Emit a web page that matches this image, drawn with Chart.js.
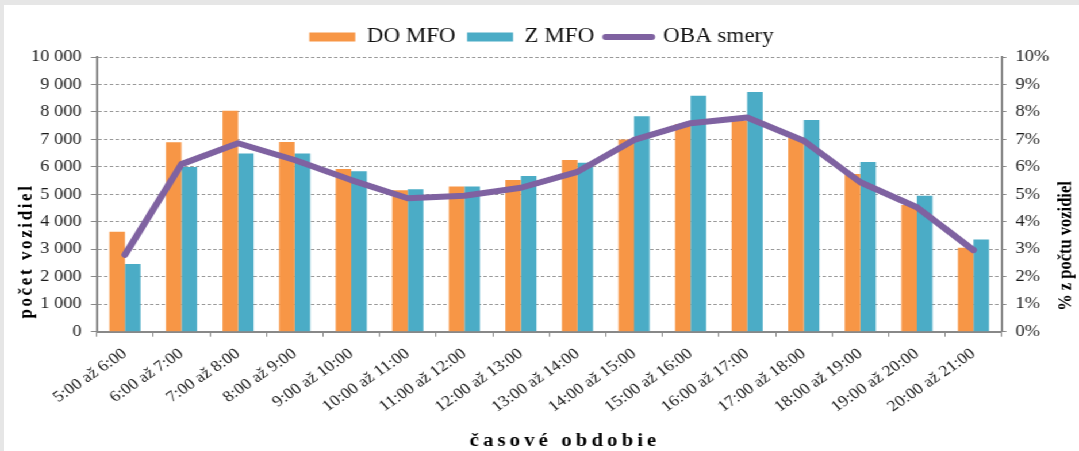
<!DOCTYPE html>
<html>
<head>
<meta charset="utf-8">
<script src="https://cdn.jsdelivr.net/npm/chart.js@4.4.1/dist/chart.umd.min.js"></script>
<style>
  html, body { margin: 0; padding: 0; background: #e6e6e6; width: 1079px; height: 451px; overflow: hidden; }
  #wrap { position: absolute; left: 4px; top: 5px; width: 935px; height: 446px; background: #fff;
          transform: scaleX(1.14973); transform-origin: 0 0; }
  #c { display: block; }
</style>
</head>
<body>
<div id="wrap"><canvas id="c" width="935" height="446"></canvas></div>
<script>
const categories = ['5:00 až 6:00', '6:00 až 7:00', '7:00 až 8:00', '8:00 až 9:00', '9:00 až 10:00',
  '10:00 až 11:00', '11:00 až 12:00', '12:00 až 13:00', '13:00 až 14:00', '14:00 až 15:00',
  '15:00 až 16:00', '16:00 až 17:00', '17:00 až 18:00', '18:00 až 19:00', '19:00 až 20:00', '20:00 až 21:00'];
const doMfo = [3640, 6900, 8040, 6910, 5920, 5150, 5290, 5520, 6250, 7000, 7560, 7680, 7080, 5740, 4610, 3060];
const zMfo = [2460, 6000, 6490, 6490, 5840, 5190, 5290, 5670, 6150, 7840, 8590, 8730, 7710, 6180, 4950, 3360];
const obaSmery = [2.8, 6.1, 6.86, 6.25, 5.52, 4.86, 4.95, 5.24, 5.82, 6.98, 7.59, 7.8, 6.95, 5.44, 4.53, 2.97];
const yTickLabels = ['0', '1 000', '2 000', '3 000', '4 000', '5 000', '6 000', '7 000', '8 000', '9 000', '10 000'];
const y1TickLabels = ['0%', '1%', '2%', '3%', '4%', '5%', '6%', '7%', '8%', '9%', '10%'];
const seriesNames = ['DO MFO', 'Z MFO', 'OBA smery'];
const xTitle = 'časové obdobie';
const yTitle = 'počet vozidiel';
const y1Title = '% z počtu vozidiel';

Chart.defaults.font.family = "'Liberation Serif', 'Times New Roman', serif";
Chart.defaults.color = '#1a1a1a';

const titlePlugin = {
  id: 'axisTitles',
  afterDraw(chart) {
    const ctx = chart.ctx;
    const ff = "'Liberation Serif', serif";
    ctx.save();
    ctx.fillStyle = '#000';
    ctx.textAlign = 'center';
    ctx.textBaseline = 'middle';
    // x title
    ctx.font = 'bold 18px ' + ff;
    try { ctx.letterSpacing = '3.6px'; } catch (e) {}
    ctx.fillText(xTitle, 488, 436);
    // left title
    ctx.save();
    ctx.font = 'bold 17px ' + ff;
    try { ctx.letterSpacing = '2.6px'; } catch (e) {}
    ctx.translate(20, 246);
    ctx.rotate(-Math.PI / 2);
    ctx.fillText(yTitle, 0, 0);
    ctx.restore();
    // right title
    ctx.save();
    ctx.font = 'bold 16.5px ' + ff;
    try { ctx.letterSpacing = '0px'; } catch (e) {}
    ctx.translate(924, 241);
    ctx.rotate(-Math.PI / 2);
    ctx.fillText(y1Title, 0, 0);
    ctx.restore();
    ctx.restore();
  }
};

new Chart(document.getElementById('c'), {
  data: {
    labels: categories,
    datasets: [
      { type: 'bar', label: seriesNames[0], data: doMfo, backgroundColor: '#F79646', yAxisID: 'y', order: 1,
        barPercentage: 1, categoryPercentage: 0.55 },
      { type: 'bar', label: seriesNames[1], data: zMfo, backgroundColor: '#4BACC6', yAxisID: 'y', order: 1,
        barPercentage: 1, categoryPercentage: 0.55 },
      { type: 'line', label: seriesNames[2], data: obaSmery, borderColor: '#7F62A1', backgroundColor: '#7F62A1',
        borderWidth: 6, pointRadius: 0, tension: 0, yAxisID: 'y1', order: 0,
        borderJoinStyle: 'round', borderCapStyle: 'round' }
    ]
  },
  options: {
    responsive: false,
    animation: false,
    devicePixelRatio: 1,
    layout: { padding: { top: 12, left: 0, right: 0, bottom: 0 } },
    plugins: {
      tooltip: { enabled: false },
      legend: {
        position: 'top',
        labels: {
          font: { size: 20 },
          color: '#111',
          usePointStyle: true,
          pointStyleWidth: 40,
          boxHeight: 9,
          padding: 10,
          generateLabels(chart) {
            const items = Chart.defaults.plugins.legend.labels.generateLabels(chart);
            items.sort((a, b) => a.datasetIndex - b.datasetIndex);
            items.forEach(it => {
              const ds = chart.data.datasets[it.datasetIndex];
              if (ds.type === 'line') {
                it.pointStyle = 'line'; it.lineWidth = 6; it.strokeStyle = ds.borderColor; it.lineCap = 'round';
              } else {
                it.pointStyle = 'rect'; it.lineWidth = 0; it.fillStyle = ds.backgroundColor; it.strokeStyle = ds.backgroundColor;
              }
            });
            return items;
          }
        }
      }
    },
    scales: {
      x: {
        offset: true,
        grid: { offset: true, drawOnChartArea: false, drawTicks: true, tickLength: 5, color: '#888', tickColor: '#888' },
        border: { color: '#888', width: 2 },
        ticks: { autoSkip: false, minRotation: 38, maxRotation: 38, padding: 8, font: { size: 15.5 }, color: '#1a1a1a' },
        afterFit(s) { s.height = 119.3; }
      },
      y: {
        position: 'left',
        min: 0, max: 10000,
        grid: { color: '#9a9a9a', lineWidth: 1, tickLength: 5, tickColor: '#888', tickBorderDash: [] },
        border: { color: '#888', width: 2, dash: [3, 2] },
        ticks: { stepSize: 1000, padding: 8, font: { size: 16 }, color: '#1a1a1a',
                 callback: (v, i) => yTickLabels[i] },
        afterFit(s) { s.width = 80.6; }
      },
      y1: {
        position: 'right',
        min: 0, max: 10,
        grid: { drawOnChartArea: false, tickLength: 4, color: '#888', tickColor: '#888' },
        border: { color: '#888', width: 2 },
        ticks: { stepSize: 1, padding: 8, font: { size: 16 }, color: '#1a1a1a',
                 callback: (v, i) => y1TickLabels[i] },
        afterFit(s) { s.width = 67.2; }
      }
    }
  },
  plugins: [titlePlugin]
});
</script>
</body>
</html>
